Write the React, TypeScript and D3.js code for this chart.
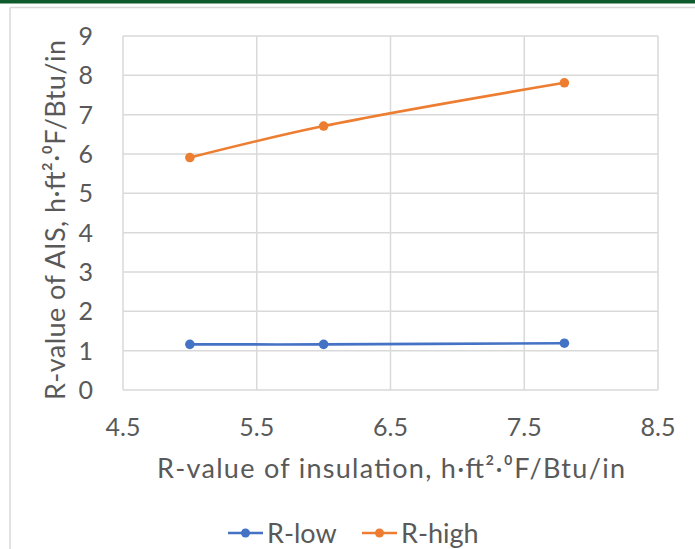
import React from 'react';
import * as d3 from 'd3';

// values
const insulation = [5, 6, 7.8];
const rLow = [1.16, 1.16, 1.19];
const rHigh = [5.91, 6.71, 7.81];
const seriesNames = ['R-low', 'R-high'];
const seriesColors = ['#4472C4', '#ED7D31'];
const xTicks = [4.5, 5.5, 6.5, 7.5, 8.5];
const yTicks = [0, 1, 2, 3, 4, 5, 6, 7, 8, 9];

const W = 695, H = 549;
const font = 'Lato, "Open Sans", sans-serif';
const txt = '#595959';

export default function App() {
  const x = d3.scaleLinear().domain([4.5, 8.5]).range([123, 658]);
  const y = d3.scaleLinear().domain([0, 9]).range([390, 36]);

  const series = [rLow, rHigh];
  const lineFn = d3.line<number>()
    .x((d, i) => x(insulation[i]))
    .y(d => y(d))
    .curve(d3.curveCatmullRom);

  return (
    <svg width={W} height={H} style={{ position: 'absolute', left: 0, top: 0, background: '#fff' }}>
      <rect x={0} y={0} width={W} height={3.5} fill="#0f5a2c" />
      <line x1={10} x2={W} y1={7.5} y2={7.5} stroke="#d9d9d9" strokeWidth={1.5} />
      <line x1={10} x2={10} y1={7.5} y2={H} stroke="#d9d9d9" strokeWidth={1.5} />

      {yTicks.map(t => (
        <line key={'gy' + t} x1={x(4.5)} x2={x(8.5)} y1={y(t)} y2={y(t)} stroke="#d9d9d9" strokeWidth={1.5} />
      ))}
      {xTicks.map(t => (
        <line key={'gx' + t} x1={x(t)} x2={x(t)} y1={y(0)} y2={y(9)} stroke="#d9d9d9" strokeWidth={1.5} />
      ))}

      {yTicks.map(t => (
        <text key={'ty' + t} x={93} y={y(t)} dy="0.36em" textAnchor="end" fontFamily={font} fontSize={25} fill={txt}>{t}</text>
      ))}
      {xTicks.map(t => (
        <text key={'tx' + t} x={x(t)} y={436} textAnchor="middle" fontFamily={font} fontSize={25} fill={txt}>{d3.format('.1f')(t)}</text>
      ))}

      <text x={391} y={478} textAnchor="middle" fontFamily={font} fontSize={27} fill={txt}
        textLength={468} lengthAdjust="spacing">
        R-value of insulation, h·ft²·⁰F/Btu/in
      </text>
      <text transform={`translate(65,${220}) rotate(-90)`} textAnchor="middle" fontFamily={font} fontSize={27} fill={txt}
        textLength={360} lengthAdjust="spacing">
        R-value of AIS, h·ft²·⁰F/Btu/in
      </text>

      {series.map((s, k) => (
        <g key={'s' + k}>
          <path d={lineFn(s) || ''} fill="none" stroke={seriesColors[k]} strokeWidth={2.6} />
          {s.map((v, i) => (
            <circle key={i} cx={x(insulation[i])} cy={y(v)} r={4.8} fill={seriesColors[k]} />
          ))}
        </g>
      ))}

      {seriesNames.map((n, k) => {
        const lx = 228 + k * 134;
        return (
          <g key={'l' + k}>
            <line x1={lx} x2={lx + 35} y1={533} y2={533} stroke={seriesColors[k]} strokeWidth={2.6} />
            <circle cx={lx + 17.5} cy={533} r={4.5} fill={seriesColors[k]} />
            <text x={lx + 39} y={543} fontFamily={font} fontSize={27} fill={txt}>{n}</text>
          </g>
        );
      })}
    </svg>
  );
}
